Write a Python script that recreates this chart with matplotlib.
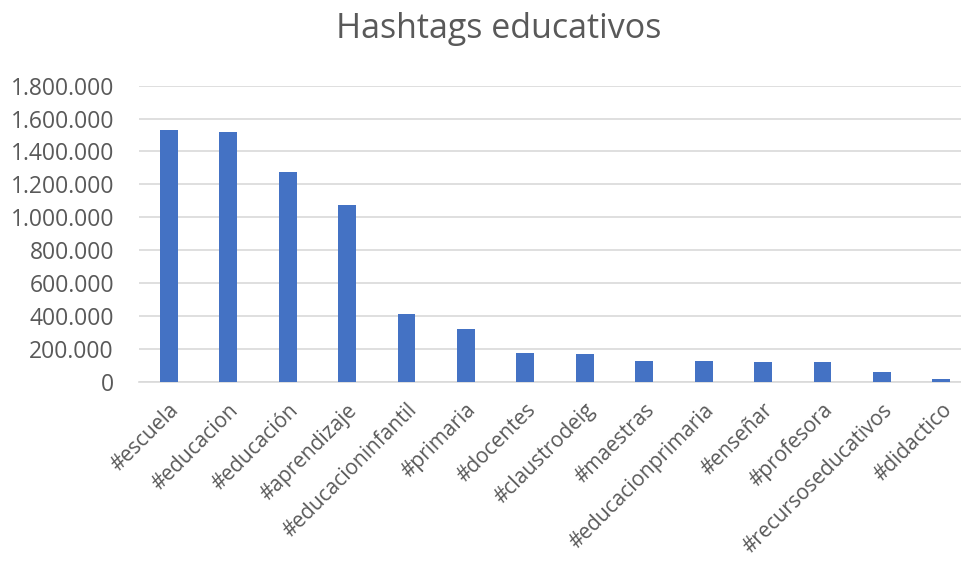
import matplotlib
matplotlib.use("Agg")
import matplotlib.pyplot as plt
from matplotlib.ticker import FuncFormatter

hashtags = ["#escuela", "#educacion", "#educación", "#aprendizaje",
            "#educacioninfantil", "#primaria", "#docentes", "#claustrodeig",
            "#maestras", "#educacionprimaria", "#enseñar", "#profesora",
            "#recursoseducativos", "#didactico"]
publicaciones = [1530000, 1520000, 1277000, 1074000, 410000, 319000, 176000,
                 168000, 126000, 126000, 118000, 118000, 57000, 18000]
y_ticks = list(range(0, 1800001, 200000))

plt.rcParams['font.family'] = ['Open Sans', 'DejaVu Sans']
txt = '#595959'

fig = plt.figure(figsize=(9.61, 5.61), dpi=100)
ax = fig.add_axes([139 / 961, 1 - 381.7 / 561, 1 - 139 / 961, (381.7 - 85.7) / 561])

x = list(range(len(hashtags)))
ax.bar(x, publicaciones, width=0.3, color='#4472C4', zorder=3)

ax.set_ylim(0, 1800000)
ax.set_xlim(-0.5, 13.33)
ax.set_yticks(y_ticks)
ax.yaxis.set_major_formatter(FuncFormatter(lambda v, p: f"{int(v):,}".replace(",", ".")))
ax.grid(axis='y', color='#d9d9d9', linewidth=1.2, zorder=0)
for s in ['top', 'right', 'left']:
    ax.spines[s].set_visible(False)
ax.spines['bottom'].set_color('#d9d9d9')
ax.spines['bottom'].set_linewidth(1.2)
ax.tick_params(axis='both', length=0, colors=txt)
ax.tick_params(axis='y', labelsize=16.5, pad=18)

ax.set_xticks(x)
ax.set_xticklabels(hashtags, rotation=45, ha='right', rotation_mode='anchor')
ax.tick_params(axis='x', labelsize=15, pad=13)

fig.suptitle("Hashtags educativos", x=(338 + 660) / 2 / 961, y=1 - 29 / 561,
             va='center', fontsize=24.5, color=txt)

fig.savefig("out.png", dpi=100)
